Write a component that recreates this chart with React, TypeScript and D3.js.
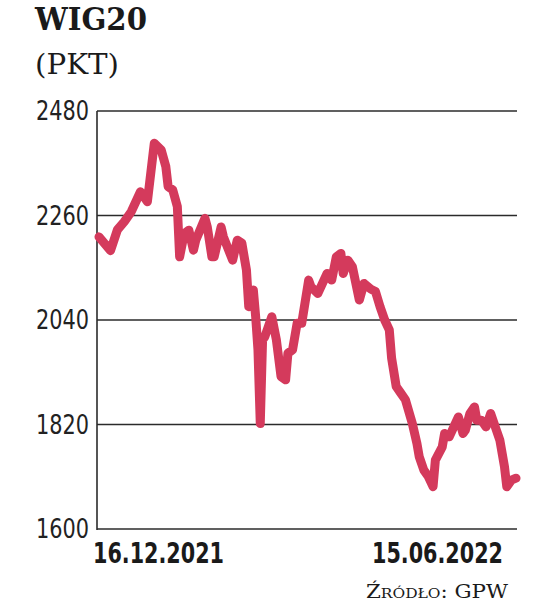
import React from "react";
import * as d3 from "d3";

const dates: string[] = [
  "2021-12-16","2021-12-21","2021-12-24","2021-12-27","2021-12-30","2022-01-03","2022-01-06","2022-01-07","2022-01-09",
  "2022-01-12","2022-01-14","2022-01-15","2022-01-17","2022-01-19","2022-01-20","2022-01-22","2022-01-24","2022-01-26",
  "2022-01-27","2022-01-31","2022-02-01","2022-02-03","2022-02-04","2022-02-07","2022-02-08","2022-02-12","2022-02-14",
  "2022-02-16","2022-02-18","2022-02-19","2022-02-21","2022-02-22","2022-02-23","2022-02-24","2022-02-25","2022-02-26",
  "2022-03-01","2022-03-03","2022-03-05","2022-03-07","2022-03-08","2022-03-10","2022-03-12","2022-03-14","2022-03-17",
  "2022-03-18","2022-03-21","2022-03-23","2022-03-25","2022-03-27","2022-03-29","2022-03-31","2022-04-01","2022-04-03",
  "2022-04-05","2022-04-08","2022-04-10","2022-04-13","2022-04-15","2022-04-17","2022-04-19","2022-04-21","2022-04-22",
  "2022-04-24","2022-04-26","2022-04-28","2022-05-01","2022-05-03","2022-05-04","2022-05-06","2022-05-08","2022-05-10",
  "2022-05-11","2022-05-14","2022-05-15","2022-05-17","2022-05-19","2022-05-21","2022-05-23","2022-05-24","2022-05-26",
  "2022-05-28","2022-05-29","2022-05-31","2022-06-02","2022-06-04","2022-06-06","2022-06-08","2022-06-10","2022-06-11",
  "2022-06-13","2022-06-15",
];

const values: number[] = [
  2215, 2186, 2230, 2247, 2268, 2310, 2289, 2330, 2412,
  2398, 2363, 2321, 2314, 2279, 2173, 2222, 2229, 2187,
  2208, 2254, 2236, 2173, 2173, 2236, 2215, 2166, 2208,
  2202, 2145, 2068, 2103, 2047, 1977, 1822, 1998, 2005,
  2047, 1998, 1921, 1914, 1970, 1977, 2033, 2033, 2124,
  2110, 2096, 2117, 2138, 2124, 2173, 2180, 2138, 2166,
  2152, 2082, 2117, 2105, 2100, 2068, 2040, 2019, 1960,
  1900, 1886, 1872, 1822, 1780, 1752, 1724, 1710, 1689,
  1745, 1773, 1801, 1794, 1815, 1836, 1801, 1808, 1843,
  1857, 1829, 1829, 1815, 1843, 1815, 1787, 1731, 1689,
  1703, 1707,
];

const yTicks: number[] = [1600, 1820, 2040, 2260, 2480];
const xLabels: string[] = ["16.12.2021", "15.06.2022"];
const title = "WIG20";
const unit = "(PKT)";
const source = "Źródło: GPW";

export default function App() {
  const W = 536, H = 604;
  const parse = d3.timeParse("%Y-%m-%d");
  const data = dates.map((d, i) => ({ date: parse(d) as Date, value: values[i] }));
  const x = d3.scaleTime()
    .domain([parse("2021-12-16") as Date, parse("2022-06-15") as Date])
    .range([99, 516]);
  const y = d3.scaleLinear().domain([1600, 2480]).range([529, 111]);
  const line = d3.line<{ date: Date; value: number }>()
    .x(d => x(d.date))
    .y(d => y(d.value));

  const tickFont = "'Liberation Sans Narrow', 'DejaVu Sans Condensed', 'Roboto Condensed', sans-serif";

  return (
    <svg width={W} height={H} style={{ position: "absolute", left: 0, top: 0, background: "#fff" }}>
      <text x={35} y={29.5} fontFamily="'DejaVu Serif', serif" fontWeight="bold" fontSize={31}
        textLength={112} lengthAdjust="spacingAndGlyphs" fill="#1a1a1a">{title}</text>
      <text x={35} y={74} fontFamily="'DejaVu Serif', serif" fontSize={28}
        textLength={84} lengthAdjust="spacingAndGlyphs" fill="#1a1a1a">{unit}</text>

      {yTicks.map(t => (
        <g key={t}>
          <line x1={97} x2={517} y1={y(t)} y2={y(t)} stroke="#2b2b2b" strokeWidth={1.6} />
          <text x={89} y={y(t)} dy="0.36em" textAnchor="end" fontFamily={tickFont}
            fontSize={26} textLength={53} lengthAdjust="spacingAndGlyphs" fill="#222">{t}</text>
        </g>
      ))}
      <line x1={97} x2={97} y1={111} y2={530} stroke="#2b2b2b" strokeWidth={1.6} />

      <path d={line(data) || ""} fill="none" stroke="#d43a5c" strokeWidth={9}
        strokeLinejoin="round" strokeLinecap="round" />

      <text x={93} y={562.5} fontFamily={tickFont} fontWeight="bold" fontSize={29}
        textLength={131} lengthAdjust="spacingAndGlyphs" fill="#1a1a1a">{xLabels[0]}</text>
      <text x={503} y={562.5} textAnchor="end" fontFamily={tickFont} fontWeight="bold" fontSize={29}
        textLength={131} lengthAdjust="spacingAndGlyphs" fill="#1a1a1a">{xLabels[1]}</text>

      <text x={508} y={598} textAnchor="end" fontFamily="'DejaVu Serif', serif" fontSize={18}
        style={{ fontVariant: "small-caps" }} textLength={142} lengthAdjust="spacingAndGlyphs"
        fill="#1a1a1a">{source}</text>
    </svg>
  );
}
